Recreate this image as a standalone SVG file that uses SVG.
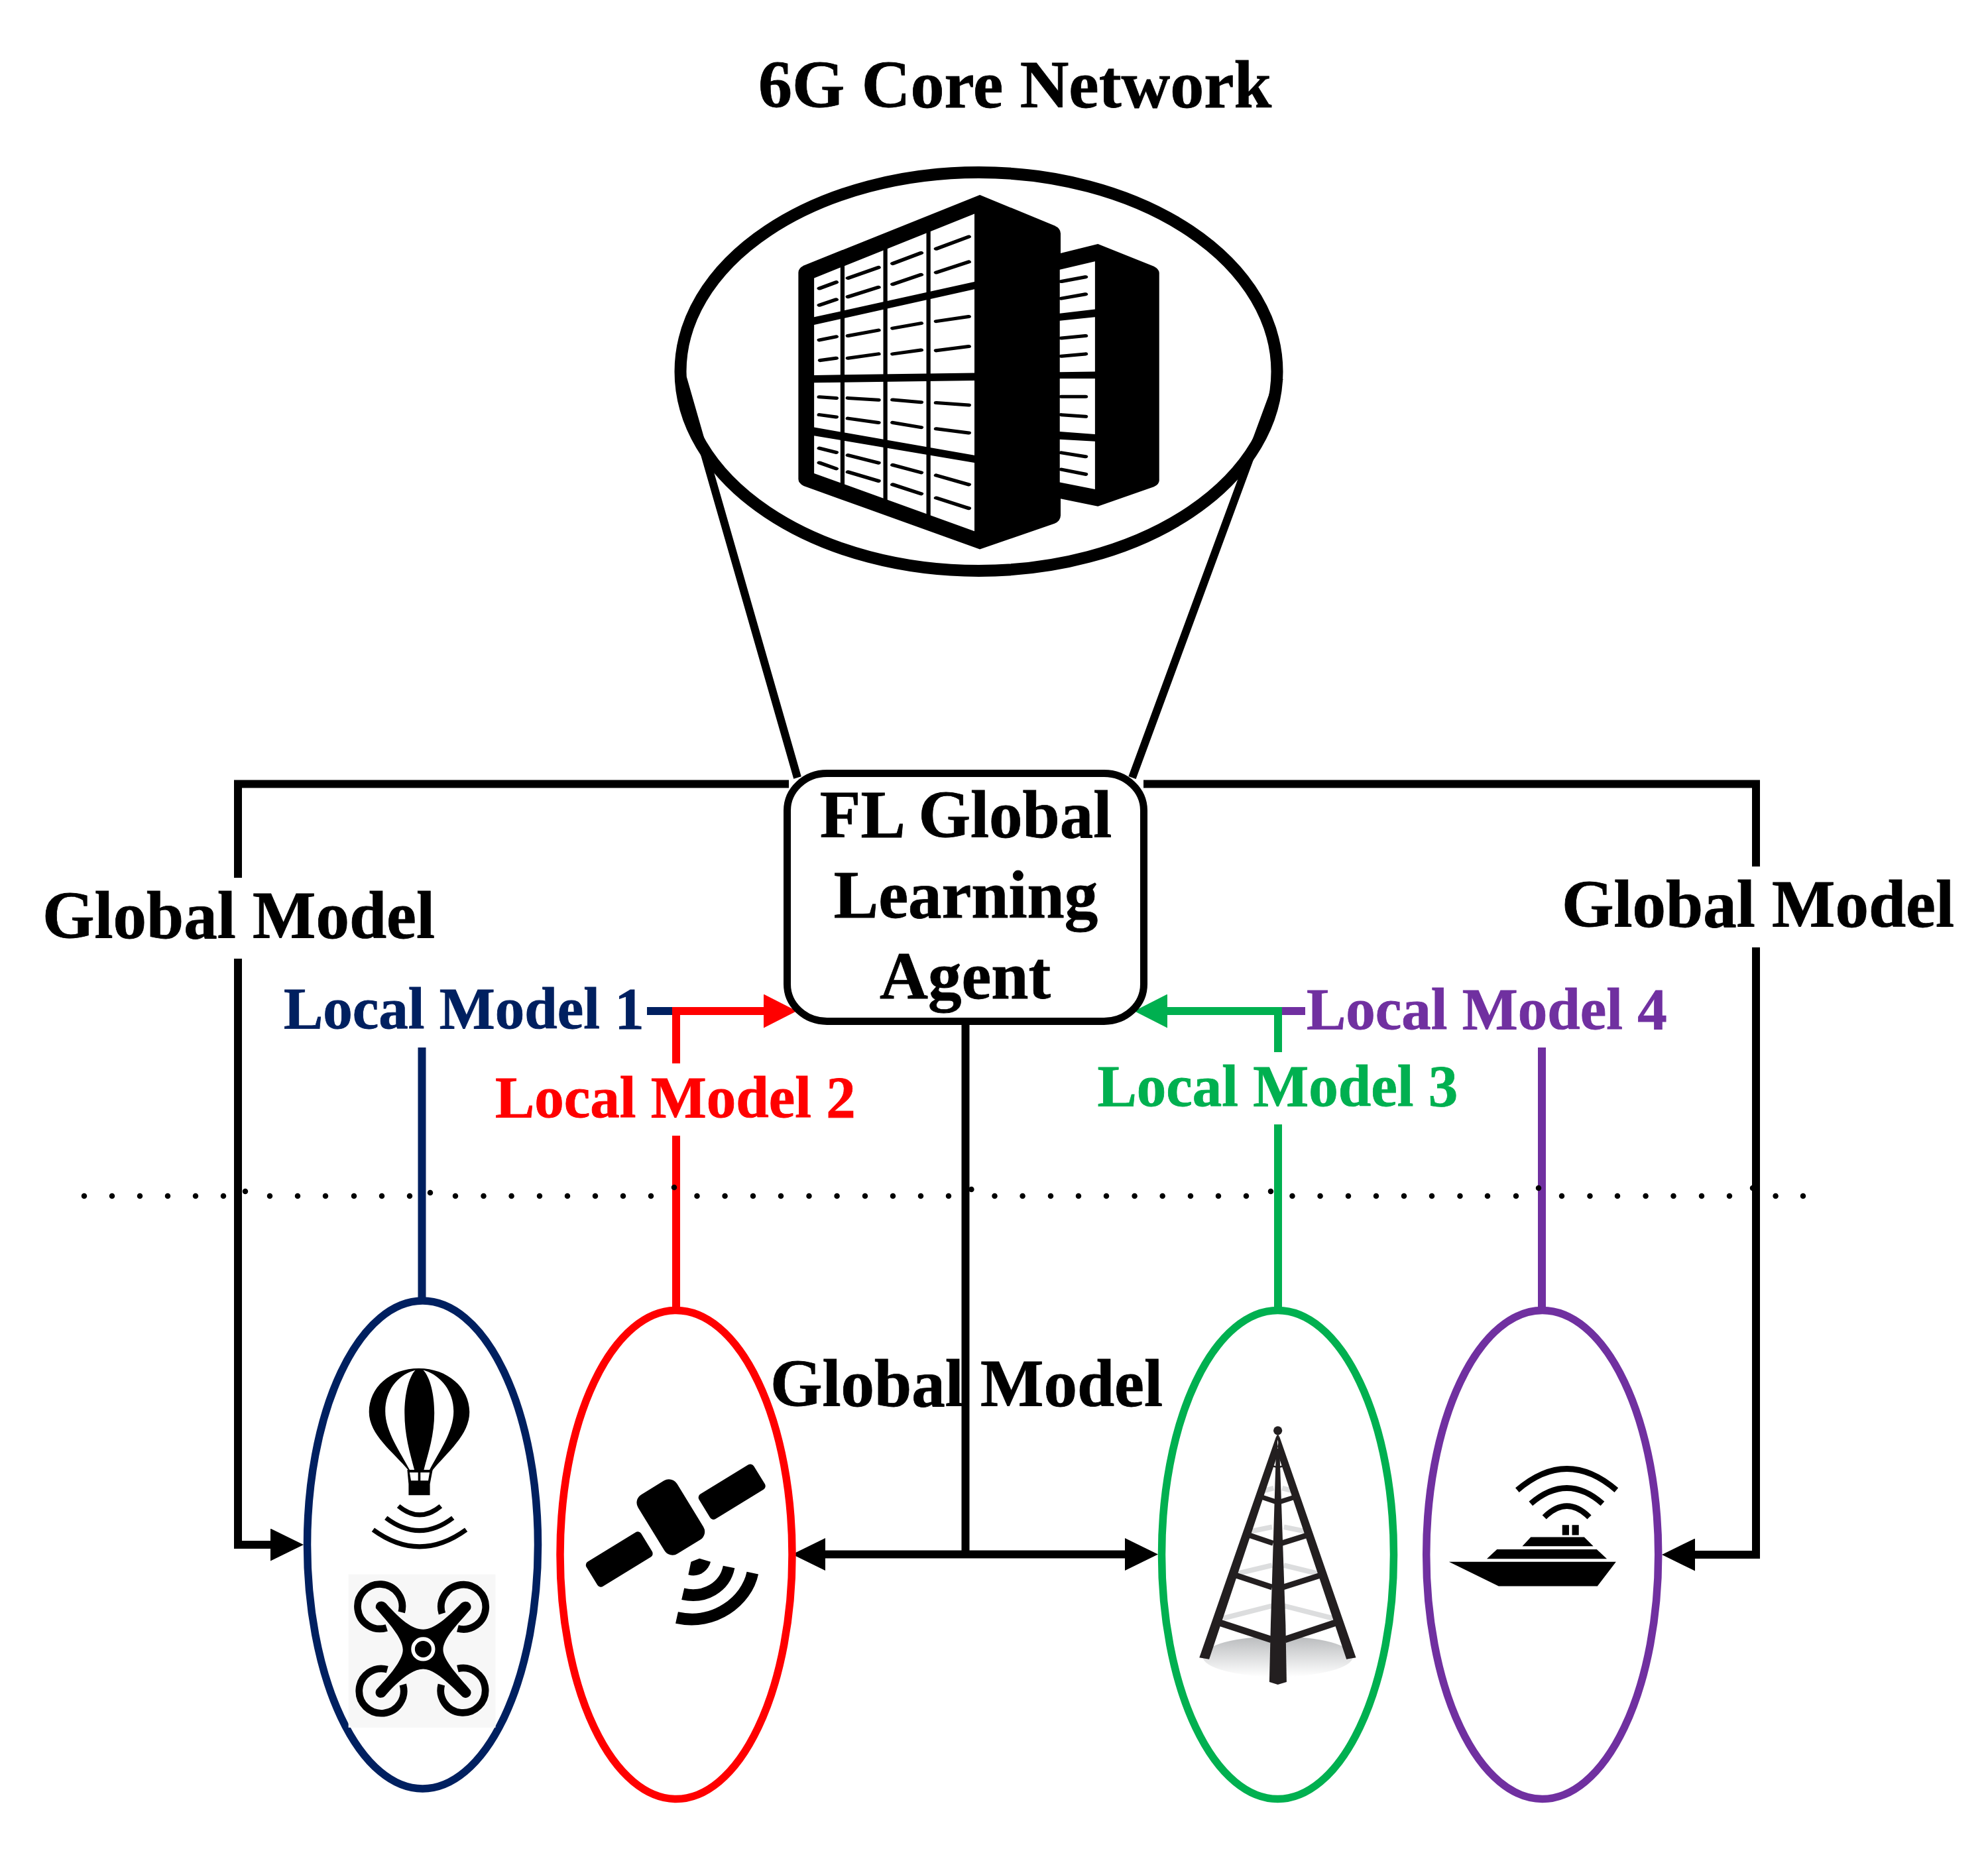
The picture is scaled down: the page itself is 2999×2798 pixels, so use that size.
<svg xmlns="http://www.w3.org/2000/svg" width="2999" height="2798" viewBox="0 0 2999 2798">
<style>
text{font-family:"Liberation Serif","Times New Roman",serif;font-weight:700;stroke-width:.8}
.big{font-size:101px;fill:#000;stroke:#000}
.title{font-size:102px}
.local{font-size:89px}
.wire{fill:none;stroke-width:12;stroke-linejoin:miter}
.k{stroke:#000}.b{stroke:#002060}.r{stroke:#f00}.g{stroke:#00b050}.p{stroke:#7030a0}
.cell{fill:none;stroke-width:10}
.dash{fill:none;stroke:#000;stroke-width:12;stroke-linecap:round}
.arc{fill:none;stroke:#000}
.panel{fill:#fff}
.tw{fill:none;stroke:#231f20}
.tg{fill:none;stroke:#dcddde;stroke-width:15}
.dev{fill:none;stroke-width:11.5}
</style>
<defs>
<marker id="ak" markerUnits="userSpaceOnUse" markerWidth="50" markerHeight="49" refX="0" refY="24.5" orient="auto" viewBox="0 0 50 49"><path d="M0,0L50,24.5L0,49Z" fill="#000"/></marker>
<marker id="ar" markerUnits="userSpaceOnUse" markerWidth="50" markerHeight="51" refX="0" refY="25.5" orient="auto" viewBox="0 0 50 51"><path d="M0,0L50,25.5L0,51Z" fill="#f00"/></marker>
<marker id="ag" markerUnits="userSpaceOnUse" markerWidth="50" markerHeight="51" refX="0" refY="25.5" orient="auto" viewBox="0 0 50 51"><path d="M0,0L50,25.5L0,51Z" fill="#00b050"/></marker>
<linearGradient id="sh" x1="0" y1="0" x2="0" y2="1"><stop offset="0" stop-color="#b9bbbd"/><stop offset="1" stop-color="#fff"/></linearGradient>
</defs>
<rect width="2999" height="2798" fill="#fff"/>

<g id="connectors">
<path class="wire k" d="M1030,570L1203,1173M1930,570L1708,1173"/>
<path class="wire k" d="M359,1324V1182.4H1190M1725,1182.4H2649V1307"/>
<path class="wire k" marker-end="url(#ak)" d="M359,1446V2330H408"/>
<path class="wire k" marker-end="url(#ak)" d="M2649,1429V2345H2557"/>
<path class="wire k" d="M1456.5,1540V2345"/>
<path class="wire k" marker-end="url(#ak)" d="M1457,2344.5H1245"/>
<path class="wire k" marker-end="url(#ak)" d="M1457,2344.5H1697"/>
<path class="wire b" d="M976,1525H1020M636.5,1580V1962"/>
<path class="wire p" d="M1928,1525H1969M2326,1580V1975"/>
<path class="wire r" marker-end="url(#ar)" d="M1020,1604V1525H1152"/>
<path class="wire r" d="M1020,1713V1975"/>
<path class="wire g" marker-end="url(#ag)" d="M1928,1587V1525H1761"/>
<path class="wire g" d="M1928,1696V1975"/>
</g>

<g id="separator"><path fill="none" stroke="#000" stroke-width="8.5" stroke-linecap="round" d="M127,1804h0M169,1804h0M211,1804h0M253,1804h0M295,1804h0M337,1804h0M370,1797h0M407,1804h0M449,1804h0M491,1804h0M534,1804h0M576,1804h0M618,1804h0M649,1799h0M687,1804h0M729.5,1804h0M771.6,1804h0M814,1804h0M856,1804h0M898,1804h0M940,1804h0M982,1804h0M1017,1791h0M1051.5,1804h0M1093.6,1804h0M1136,1804h0M1178,1804h0M1220.5,1804h0M1262.6,1804h0M1305,1804h0M1347,1804h0M1389,1804h0M1431,1804h0M1465.4,1794h0M1500.5,1804h0M1542.6,1804h0M1585,1804h0M1627,1804h0M1669,1804h0M1711.6,1804h0M1753.7,1804h0M1796,1804h0M1838,1804h0M1880,1804h0M1917,1797h0M1949.5,1804h0M1991.6,1804h0M2034,1804h0M2076,1804h0M2118,1804h0M2160,1804h0M2202.5,1804h0M2244,1804h0M2287,1804h0M2321,1792h0M2356,1804h0M2398.5,1804h0M2440,1804h0M2482.6,1804h0M2524.5,1804h0M2567,1804h0M2609,1804h0M2644,1792h0M2678.6,1804h0M2720,1804h0"/></g>

<g id="core-network">
<ellipse cx="1476.5" cy="560.5" rx="450" ry="300.5" fill="none" stroke="#000" stroke-width="18"/>
<g transform="translate(1000,230) scale(.625,.4209)">
<path fill="#000" d="M958,362L1050,328L1185,408Q1198,418 1198,432V1175Q1198,1190 1185,1198L1050,1268L958,1240Z"/>
<path fill="#000" d="M765,152L945,262Q960,272 960,290V1300Q960,1320 945,1330L765,1422L340,1195Q327,1185 327,1170V430Q327,415 340,405Z"/>
<path class="panel" d="M365,450L752,220V463L365,590ZM365,618L752,490V790L365,798ZM365,825L752,817V1085L365,985ZM365,1015L752,1112V1357L365,1150Z"/>
<path class="cell" stroke="#000" d="M433.5,400V1195M537,340V1250M641,280V1310"/>
<path class="panel" d="M958,420L1043,390V562L958,577ZM958,603L1043,590V785L958,787ZM958,810H1043V1010L958,1000ZM958,1028L1043,1035V1207L958,1182Z"/>
<path class="dash" d="M378,487L418,465M378,547L418,527M378,672L418,660M380,745L418,737M378,876L418,880M378,940L418,948M378,1060L418,1075M378,1112L418,1133M447,450L520,412M447,517L520,483M447,657L520,637M447,737L520,722M447,880L520,887M447,953L520,968M447,1085L520,1112M447,1145L520,1177M555,398L623,360M555,472L623,438M555,630L623,612M555,722L623,708M555,886L623,895M555,968L623,985M555,1120L623,1147M555,1190L623,1223M660,345L738,302M660,430L738,392M660,605L738,588M660,710L738,695M660,897L738,905M660,990L738,1005M660,1157L738,1190M660,1238L738,1275M962,462L1020,446M962,523L1020,508M962,665L1020,657M962,730L1020,722M962,875H1020M962,940L1020,946M962,1076L1020,1090M962,1136L1020,1153"/>
</g>
</g>

<g id="fl-agent">
<rect x="1187.5" y="1166.5" width="538" height="374" rx="60" ry="56" fill="#fff" stroke="#000" stroke-width="11"/>
<text class="big" x="1457" y="1263" text-anchor="middle">FL Global</text>
<text class="big" x="1457" y="1384" text-anchor="middle">Learning</text>
<text class="big" x="1456" y="1506" text-anchor="middle">Agent</text>
</g>

<g id="device-1">
<ellipse cx="637.5" cy="2330" rx="174" ry="368" class="dev b"/>
<g transform="translate(420,1940) scale(.5102)">
<path fill="#000" d="M415,243C500,243 565,300 565,372C565,440 500,490 455,545H385C340,490 268,440 268,372C268,300 330,243 415,243Z"/>
<path class="panel" d="M400,250C350,265 316,310 316,370C316,430 360,490 388,543H402C388,490 373,440 373,375C373,320 385,270 405,248ZM434,250C480,265 518,310 518,370C518,430 475,490 447,543H430C444,490 461,440 461,375C461,320 449,270 428,248Z"/>
<path fill="#000" d="M381,543H456L448,585V618H385V585Z"/>
<path class="panel" d="M388,551H413V575H392ZM420,551H447L443,575H420Z"/>
<path class="arc" stroke-width="14" d="M355,650Q417,702 480,650M318,685Q417,760 516,685M280,720Q417,820 555,720"/>
<rect x="207" y="852" width="435" height="453" fill="#f7f7f7"/>
<path fill="#000" d="M288,952C285,935 305,925 318,938C360,985 395,1015 428,1015C460,1015 500,980 540,938C555,925 575,938 568,955C530,1000 487,1040 487,1075C487,1105 530,1150 568,1195C575,1210 555,1225 542,1212C500,1170 460,1132 428,1132C395,1132 350,1170 315,1212C300,1225 280,1210 290,1192C330,1150 368,1105 368,1075C368,1040 325,995 288,952Z"/>
<circle cx="428" cy="1073" r="30" fill="#000" stroke="#fff" stroke-width="11"/>
<path class="arc" stroke-width="21" d="M364,964A66,66 0 1 0 320,1010M484,968A66,66 0 1 1 530,1012M322,1133A66,66 0 1 0 368,1178M530,1131A66,66 0 1 1 482,1178"/>
</g>
</g>

<g id="device-2">
<ellipse cx="1020" cy="2345" rx="175" ry="368.5" class="dev r"/>
<g transform="translate(420,1940) scale(.5102)">
<g fill="#000">
<rect x="1092.5" y="580.5" width="135" height="205" rx="28" transform="rotate(-31.5 1160 683)"/>
<rect x="913" y="764.5" width="190" height="86" rx="12" transform="rotate(-31.5 1008 807.5)"/>
<rect x="1246" y="565" width="190" height="86" rx="12" transform="rotate(-31.5 1341 608)"/>
<path d="M1245,805L1278,815C1270,845 1240,862 1212,853L1220,815Z"/>
</g>
<path class="arc" stroke-width="35" d="M1332,830C1320,890 1260,925 1196,910M1402,848C1385,930 1290,1005 1178,980"/>
</g>
</g>

<g id="device-3">
<ellipse cx="1927.5" cy="2345" rx="175" ry="368.5" class="dev g"/>
<g transform="translate(1720,1940) scale(.5102)">
<ellipse cx="407" cy="1095" rx="222" ry="60" fill="url(#sh)"/>
<path class="tg" d="M245,982L390,945M570,982L425,945M285,850L390,825M527,850L425,825M325,725L390,712M490,725L425,712M365,605L395,597M450,605L420,597"/>
<path fill="#231f20" d="M403,442L175,1098L204,1103L409,490ZM411,442L638,1098L610,1103L405,490Z"/>
<path fill="#231f20" d="M402,480H412L430,1000L433,1170L407,1178L382,1170L386,1000Z"/>
<path class="tw" stroke-width="20" d="M235,995L388,1045M578,995L428,1045"/>
<path class="tw" stroke-width="17" d="M283,855L390,890M533,855L422,890"/>
<path class="tw" stroke-width="16" d="M318,735L393,760M498,735L418,760"/>
<path class="tw" stroke-width="14" d="M355,622L400,637M462,622L415,637"/>
<path class="tw" stroke-width="5" d="M385,530L405,535M430,530L410,535M407,440L392,522M407,440L422,522"/>
<circle cx="407" cy="427" r="13" fill="#231f20"/>
</g>
</g>

<g id="device-4">
<ellipse cx="2326.7" cy="2345" rx="175" ry="368.5" class="dev p"/>
<g transform="translate(1720,1940) scale(.5102)">
<path fill="#000" d="M913,815H1407L1352,887H1060ZM1055,778H1350L1380,806H1025ZM1155,742H1313L1340,769H1130ZM1248,706h20v30h-20ZM1277,706h20v30h-20Z"/>
<path class="arc" stroke-width="17" d="M1115,603Q1262,477 1408,603M1155,643Q1262,551 1367,643M1195,683Q1262,617 1328,683"/>
</g>
</g>

<g id="labels">
<text class="big title" x="1144" y="162">6G Core Network</text>
<text class="big" x="64" y="1414.5">Global Model</text>
<text class="big" x="2356" y="1398">Global Model</text>
<text class="big" x="1162" y="2121">Global Model</text>
<text class="local" x="428" y="1551" fill="#002060" stroke="#002060">Local Model 1</text>
<text class="local" x="747" y="1685" fill="#f00" stroke="#f00">Local Model 2</text>
<text class="local" x="1655.5" y="1668" fill="#00b050" stroke="#00b050">Local Model 3</text>
<text class="local" x="1971" y="1551.5" fill="#7030a0" stroke="#7030a0">Local Model 4</text>
</g>
</svg>
